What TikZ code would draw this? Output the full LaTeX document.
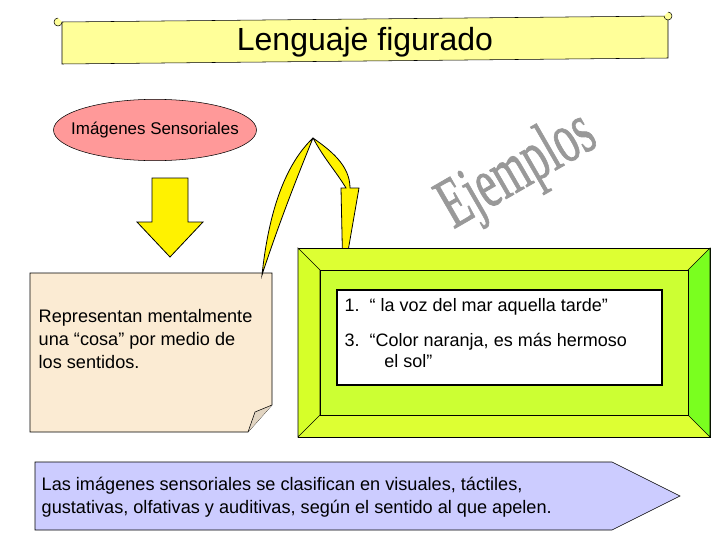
\documentclass[tikz,border=0pt]{standalone}
\usepackage{fontspec}
\setmainfont{Liberation Sans}
\newfontfamily\serifj{Liberation Serif}
\usetikzlibrary{shapes.geometric}
\definecolor{scrollyel}{HTML}{FFFF99}
\definecolor{pinkell}{HTML}{FF9999}
\definecolor{notebg}{HTML}{FBEBD3}
\definecolor{frameout}{HTML}{DDFF33}
\definecolor{framein}{HTML}{CCFF33}
\definecolor{bluearr}{HTML}{CCCCFF}
\tikzset{
  txt/.style={font=\fontsize{13.6}{17}\selectfont, align=left},
  yel/.style={draw=black, fill=yellow, line width=0.6pt}
}
\begin{document}
\begin{tikzpicture}[x=0.75pt,y=-0.75pt]
	\useasboundingbox (0,0) rectangle (728,546);
	% title scroll
	\draw [fill=scrollyel] (62,22) -- (668,16) -- (668,58) -- (62,64) -- cycle;
	\draw [fill=scrollyel] (62,22) arc (0:270:4);
	\draw [fill=scrollyel] (664,16) arc (180:-90:4);
	\node (title) at (365,42) {\fontsize{24}{28}\selectfont Lenguaje figurado};
	% ellipse
	\node (sens) [ellipse, draw, fill=pinkell, minimum width=150pt, minimum height=46pt, inner xsep=-9pt, inner ysep=0pt, font=\fontsize{12.7}{15}\selectfont] at (155,130) {Imágenes Sensoriales};
	% down arrow
	\draw [yel] (152,178) -- (188,178) -- (188,222) -- (203,222) -- (170,257) -- (137,222) -- (152,222) -- cycle;
	% note
	\draw [fill=notebg] (30,273) -- (272,273) -- (272,405) -- (248,432) -- (30,432) -- cycle;
	\draw [fill=notebg!80!gray] (272,405) -- (255,412) -- (248,432);
	\node (note) [txt, anchor=north west] at (34,305) {Representan mentalmente\\una “cosa” por medio de\\los sentidos.};
	% curved arrow
	\draw [yel] (262,275) .. controls (270,200) and (290,160) .. (313,138)
		.. controls (330,150) and (350,165) .. (350,188) -- (359,188) -- (343,280) -- (341,188) -- (346,188)
		.. controls (335,170) and (325,160) .. (313,138) .. controls (300,170) and (280,220) .. (262,275) -- cycle;
	% Ejemplos
	\node (ej) [rotate=30, font=\serifj\fontsize{54}{58}\selectfont, text=gray!80, inner sep=0pt] at (518,172) {\scalebox{0.62}[1]{\addfontfeature{FakeBold=1.2}Ejemplos}};
	% frame
	\draw [fill=frameout] (298,248) rectangle (710,437);
	\draw [fill=framein!80!yellow] (298,248) -- (320,270) -- (320,415) -- (298,437) -- cycle;
	\draw [fill=framein!60!green] (710,248) -- (688,270) -- (688,415) -- (710,437) -- cycle;
	\draw [fill=framein] (320,270) rectangle (688,415);
	\draw [fill=white, line width=1.2pt] (337,290) rectangle (662,385);
	\node (ex) [font=\fontsize{13.5}{16}\selectfont, align=left, anchor=north west] at (340,294)
		{1.\ \ “ la voz del mar aquella tarde”\\[10pt]3.\ \ “Color naranja, es más hermoso\\\hspace{2.2em}el sol”};
	% bottom arrow
	\draw [fill=bluearr] (35,462) -- (612,462) -- (680,496) -- (612,530) -- (35,530) -- cycle;
	\node (clas) [txt, anchor=west] at (37,497) {Las imágenes sensoriales se clasifican en visuales, táctiles,\\gustativas, olfativas y auditivas, según el sentido al que apelen.};
\end{tikzpicture}
\end{document}
